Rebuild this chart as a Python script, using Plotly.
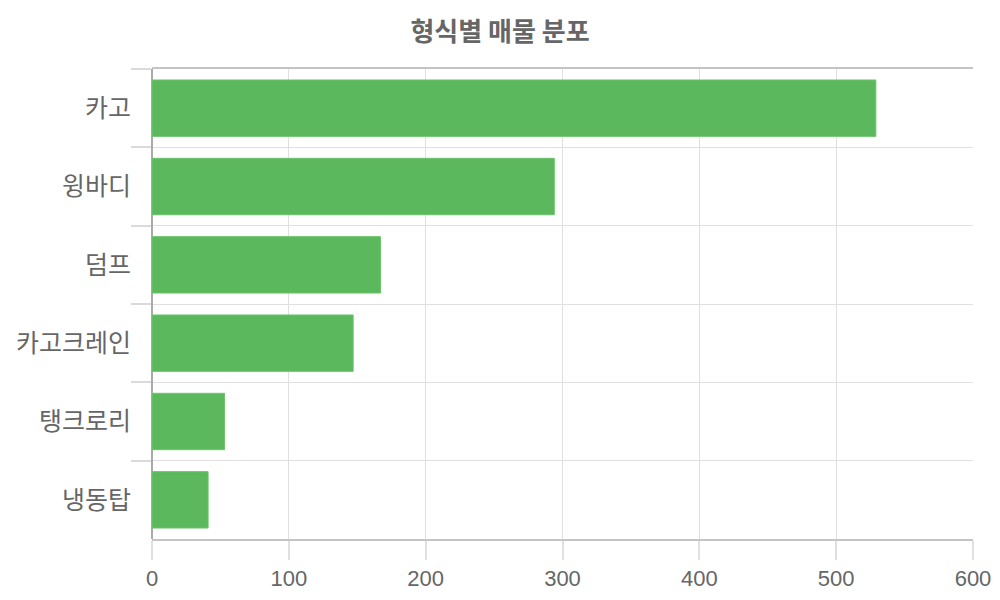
import plotly.graph_objects as go

# 형식별 매물 분포 (truck body type vs. number of listings)
types = ["카고", "윙바디", "덤프", "카고크레인", "탱크로리", "냉동탑"]
counts = [529, 294, 167, 147, 53, 41]
x_ticks = [0, 100, 200, 300, 400, 500, 600]

latin_font = "Liberation Sans, Arial, sans-serif"
kr_font = "Noto Sans CJK KR, sans-serif"
grid = "#e0e0e0"
text_color = "#666666"

fig = go.Figure()
fig.add_trace(go.Bar(
    x=counts,
    y=types,
    orientation="h",
    marker=dict(color="#5cb85c", line=dict(color="#6cc46c", width=1)),
    hoverinfo="x+y",
))

# page body has an 8px margin, so margins are shifted to compensate
fig.update_layout(
    width=1000,
    height=600,
    margin=dict(l=144, r=35, t=61, b=69),
    paper_bgcolor="white",
    plot_bgcolor="white",
    bargap=0.28,
    showlegend=False,
    title=dict(
        text="<b>형식별 매물 분포</b>",
        x=0.492,
        xanchor="center",
        y=0.96,
        yanchor="middle",
        font=dict(family=kr_font, size=26, color=text_color),
    ),
    font=dict(family=latin_font, size=22, color=text_color),
)

fig.update_xaxes(
    range=[0, 600],
    tickvals=x_ticks,
    showgrid=True,
    gridcolor=grid,
    gridwidth=1,
    ticks="outside",
    ticklen=19,
    tickwidth=1.5,
    tickcolor=grid,
    showline=True,
    linecolor="#c4c4c4",
    linewidth=1.5,
    mirror=True,
    zeroline=True,
    zerolinecolor="#aaaaaa",
    zerolinewidth=2,
    automargin=False,
    tickfont=dict(family=latin_font, size=22, color=text_color),
)

fig.update_yaxes(
    type="category",
    autorange="reversed",
    tickson="boundaries",
    showgrid=True,
    gridcolor=grid,
    gridwidth=1,
    ticks="outside",
    ticklen=20,
    tickwidth=1.5,
    tickcolor="#dadada",
    showline=False,
    automargin=False,
    ticklabelstandoff=20,
    tickfont=dict(family=kr_font, size=25, color=text_color),
)

fig.write_html("out.html")
